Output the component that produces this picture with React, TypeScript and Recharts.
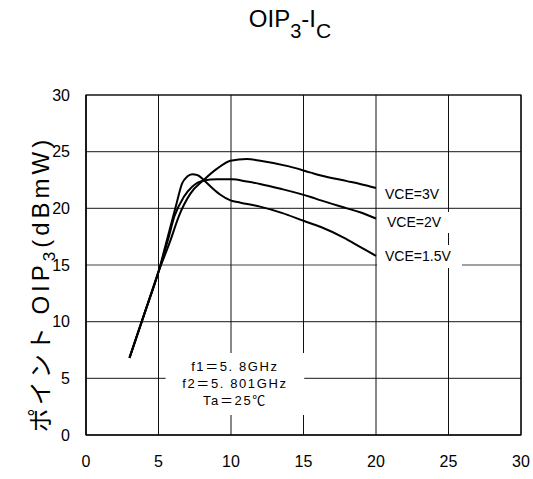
import { CartesianGrid, Label, Line, LineChart, ReferenceArea, XAxis, YAxis } from "recharts";

// axis ticks
const xTicks = [0, 5, 10, 15, 20, 25, 30];
const yTicks = [0, 5, 10, 15, 20, 25, 30];

// Ic (mA) / OIP3 (dBmW)
const icVce15 = [3, 4, 5, 5.6, 6.2, 6.63, 6.98, 7.32, 7.67, 8.12, 8.7, 9.27, 9.96, 10.65, 12, 13.5, 15, 16.2, 17.8, 18.9, 20];
const oipVce15 = [6.8, 10.6, 14.4, 17.3, 20.2, 22.2, 22.8, 23.0, 22.95, 22.5, 21.8, 21.2, 20.7, 20.5, 20.15, 19.6, 18.9, 18.35, 17.4, 16.6, 15.8];

const icVce2 = [3, 4, 5, 5.65, 6.1, 6.74, 7.32, 8.12, 9.04, 10.07, 11.1, 12, 13.5, 15.5, 16.2, 18, 18.9, 20];
const oipVce2 = [6.8, 10.6, 14.4, 17.2, 19.3, 21.0, 21.9, 22.45, 22.57, 22.57, 22.36, 22.15, 21.7, 21.0, 20.7, 20.0, 19.65, 19.1];

const icVce3 = [3, 4, 5, 5.83, 6.4, 7.2, 8.12, 9.04, 9.96, 11.1, 12.02, 14, 15.5, 16.2, 18, 18.9, 20];
const oipVce3 = [6.8, 10.6, 14.4, 17.2, 19.3, 21.3, 22.5, 23.5, 24.2, 24.35, 24.2, 23.7, 23.15, 22.9, 22.4, 22.15, 21.8];

const toPoints = (xs: number[], ys: number[]) => xs.map((ic, i) => ({ ic, oip: ys[i] }));

const series = [
  { name: "VCE=1.5V", data: toPoints(icVce15, oipVce15) },
  { name: "VCE=2V", data: toPoints(icVce2, oipVce2) },
  { name: "VCE=3V", data: toPoints(icVce3, oipVce3) },
];

const noteLines = ["f1＝5. 8GHz", "f2＝5. 801GHz", "Ta＝25℃"];

const FONT = "'Liberation Sans', Arial, 'Noto Sans CJK JP', sans-serif";

function NoteLabel(props: any) {
  const { x, y, width, height } = props.viewBox;
  const cx = x + width / 2;
  const cy = y + height / 2;
  return (
    <text x={cx} y={cy - 17} textAnchor="middle" fontSize={13} letterSpacing={1.6} fill="#000" fontFamily={FONT}>
      {noteLines.map((t, i) => (
        <tspan key={i} x={cx} dy={i === 0 ? 4.5 : 17}>
          {t}
        </tspan>
      ))}
    </text>
  );
}

function YLabel(props: any) {
  const { x, y, height } = props.viewBox;
  const bx = x + 49;
  const by = y + height / 2 + 19;
  return (
    <text
      x={bx}
      y={by}
      transform={`rotate(-90, ${bx}, ${by})`}
      textAnchor="middle"
      fontSize={24}
      letterSpacing={3}
      fill="#000"
      fontFamily={FONT}
    >
      ポイント <tspan letterSpacing={4}>OIP</tspan>
      <tspan fontSize={17} dy={6} letterSpacing={4}>3</tspan>
      <tspan dy={-6} letterSpacing={4}>(dBmW)</tspan>
    </text>
  );
}

export default function App() {
  return (
    <div style={{ position: "absolute", left: 0, top: 0, width: 533, height: 479, background: "#fff", fontFamily: FONT }}>
      <svg width={533} height={50} style={{ position: "absolute", left: 0, top: 0 }}>
        <text x={290} y={27} textAnchor="middle" fontSize={24} fill="#000" fontFamily={FONT}>
          OIP
          <tspan fontSize={20} dy={11}>3</tspan>
          <tspan dy={-11}>-I</tspan>
          <tspan fontSize={21} dy={11}>C</tspan>
        </text>
      </svg>
      <LineChart width={533} height={479} margin={{ top: 95, right: 12, bottom: 0, left: 0 }}>
        <CartesianGrid vertical={false} stroke="#444" strokeWidth={1.2} horizontalValues={yTicks} />
        <CartesianGrid horizontal={false} stroke="#111" strokeWidth={1} verticalValues={xTicks} />
        <XAxis
          type="number"
          dataKey="ic"
          domain={[0, 30]}
          ticks={xTicks}
          height={44}
          tickLine={false}
          tickSize={0}
          tickMargin={21}
          axisLine={{ stroke: "#000" }}
          tick={{ fontSize: 16, fill: "#000", fontFamily: FONT }}
          allowDuplicatedCategory={false}
        />
        <YAxis
          type="number"
          dataKey="oip"
          domain={[0, 30]}
          ticks={yTicks}
          width={86}
          tickLine={false}
          tickSize={0}
          tickMargin={16}
          axisLine={{ stroke: "#000" }}
          tick={{ fontSize: 16, fill: "#000", fontFamily: FONT }}
        >
          <Label content={<YLabel />} />
        </YAxis>
        <ReferenceArea x1={5.49} x2={15.05} y1={1.77} y2={7.24} fill="#fff" fillOpacity={1} stroke="none">
          <Label content={<NoteLabel />} />
        </ReferenceArea>
        <ReferenceArea x1={20.14} x2={24.68} y1={20.39} y2={22.15} fill="#fff" fillOpacity={1} stroke="none">
          <Label value="VCE=3V" position="insideLeft" offset={7} fontSize={14} fill="#000" fontFamily={FONT} />
        </ReferenceArea>
        <ReferenceArea x1={20.14} x2={25.24} y1={17.83} y2={19.68} fill="#fff" fillOpacity={1} stroke="none">
          <Label value="VCE=2V" position="insideLeft" offset={9} fontSize={14} fill="#000" fontFamily={FONT} />
        </ReferenceArea>
        <ReferenceArea x1={20.07} x2={25.93} y1={14.74} y2={16.77} fill="#fff" fillOpacity={1} stroke="none">
          <Label value="VCE=1.5V" position="insideLeft" offset={8} fontSize={14} fill="#000" fontFamily={FONT} />
        </ReferenceArea>
        {series.map((s) => (
          <Line
            key={s.name}
            data={s.data}
            dataKey="oip"
            name={s.name}
            type="monotone"
            stroke="#000"
            strokeWidth={2}
            dot={false}
            isAnimationActive={false}
          />
        ))}
        <ReferenceArea x1={0} x2={30} y1={0} y2={30} fill="none" stroke="#000" strokeWidth={1.2} />
      </LineChart>
    </div>
  );
}
